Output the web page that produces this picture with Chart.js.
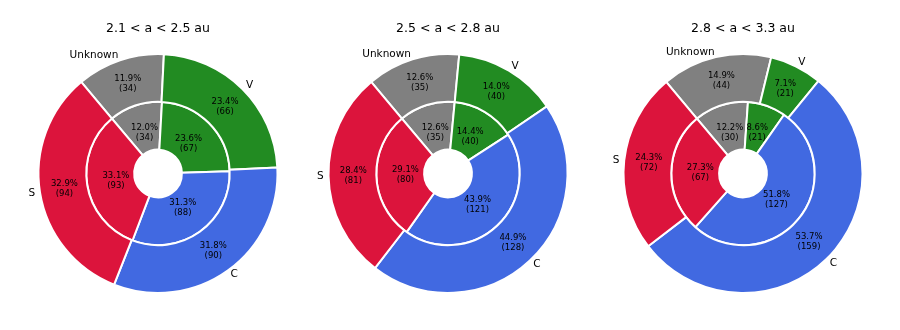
<!DOCTYPE html>
<html>
<head>
<meta charset="utf-8">
<script src="https://cdn.jsdelivr.net/npm/chart.js@4"></script>
<style>
  body { margin: 0; background: #fff; }
  #wrap { position: relative; width: 900px; height: 330px; }
  .box { position: absolute; top: 0; width: 290px; height: 330px; }
</style>
</head>
<body>
<div id="wrap">
  <div class="box" style="left:13px"><canvas id="c0"></canvas></div>
  <div class="box" style="left:303px"><canvas id="c1"></canvas></div>
  <div class="box" style="left:598px"><canvas id="c2"></canvas></div>
</div>
<script>
// categories, clockwise starting 40 degrees left of the top
const categories = ['Unknown', 'V', 'C', 'S'];
const colors = ['#808080', '#228B22', '#4169E1', '#DC143C'];

const titles = ['2.1 < a < 2.5 au', '2.5 < a < 2.8 au', '2.8 < a < 3.3 au'];

// outer ring (percent and counts)
const outerPct = [
  [11.9, 23.4, 31.8, 32.9],
  [12.6, 14.0, 44.9, 28.4],
  [14.9, 7.1, 53.7, 24.3]
];
const outerCount = [
  [34, 66, 90, 94],
  [35, 40, 128, 81],
  [44, 21, 159, 72]
];

// inner ring
const innerPct = [
  [12.0, 23.6, 31.3, 33.1],
  [12.6, 14.4, 43.9, 29.1],
  [12.2, 8.6, 51.8, 27.3]
];
const innerCount = [
  [34, 67, 88, 93],
  [35, 40, 121, 80],
  [30, 21, 127, 67]
];

const FONT = 'DejaVu Sans';

// percent labels inside the wedges and category names outside
const pieLabels = {
  id: 'pieLabels',
  afterDatasetsDraw(chart) {
    const ctx = chart.ctx;
    ctx.save();
    ctx.fillStyle = '#000';
    ctx.textAlign = 'center';
    ctx.textBaseline = 'middle';
    ctx.font = '8.5px "' + FONT + '"';
    const outerMeta = chart.getDatasetMeta(0);
    const R = outerMeta.data[0].outerRadius - 1;
    chart.data.datasets.forEach((ds, di) => {
      const meta = chart.getDatasetMeta(di);
      const dist = di === 0 ? 0.8 : 0.36;
      meta.data.forEach((arc, i) => {
        const mid = (arc.startAngle + arc.endAngle) / 2;
        const x = arc.x + Math.cos(mid) * R * dist;
        const y = arc.y + Math.sin(mid) * R * dist;
        ctx.fillText(ds.data[i].toFixed(1) + '%', x, y - 5);
        ctx.fillText('(' + ds.counts[i] + ')', x, y + 5);
      });
    });
    ctx.font = '10.5px "' + FONT + '"';
    outerMeta.data.forEach((arc, i) => {
      const mid = (arc.startAngle + arc.endAngle) / 2;
      const x = arc.x + Math.cos(mid) * R * 1.05;
      const y = arc.y + Math.sin(mid) * R * 1.05;
      ctx.textAlign = Math.cos(mid) >= 0 ? 'left' : 'right';
      ctx.fillText(chart.data.labels[i], x, y);
    });
    ctx.restore();
  }
};

function makeChart(k) {
  new Chart(document.getElementById('c' + k), {
    type: 'doughnut',
    data: {
      labels: categories,
      datasets: [
        { data: outerPct[k], counts: outerCount[k], backgroundColor: colors,
          borderColor: '#fff', borderWidth: 2 },
        { data: innerPct[k], counts: innerCount[k], backgroundColor: colors,
          borderColor: '#fff', borderWidth: 2 }
      ]
    },
    options: {
      responsive: false,
      animation: false,
      rotation: -40,
      cutout: '20%',
      layout: { padding: { bottom: 36 } },
      plugins: {
        legend: { display: false },
        tooltip: { enabled: false },
        title: {
          display: true,
          text: titles[k],
          color: '#000',
          font: { family: FONT, size: 12.5, weight: 'normal' },
          padding: { top: 21, bottom: 17 }
        }
      }
    },
    plugins: [pieLabels]
  });
}

document.querySelectorAll('canvas').forEach(c => { c.width = 290; c.height = 330; });
[0, 1, 2].forEach(makeChart);
</script>
</body>
</html>
